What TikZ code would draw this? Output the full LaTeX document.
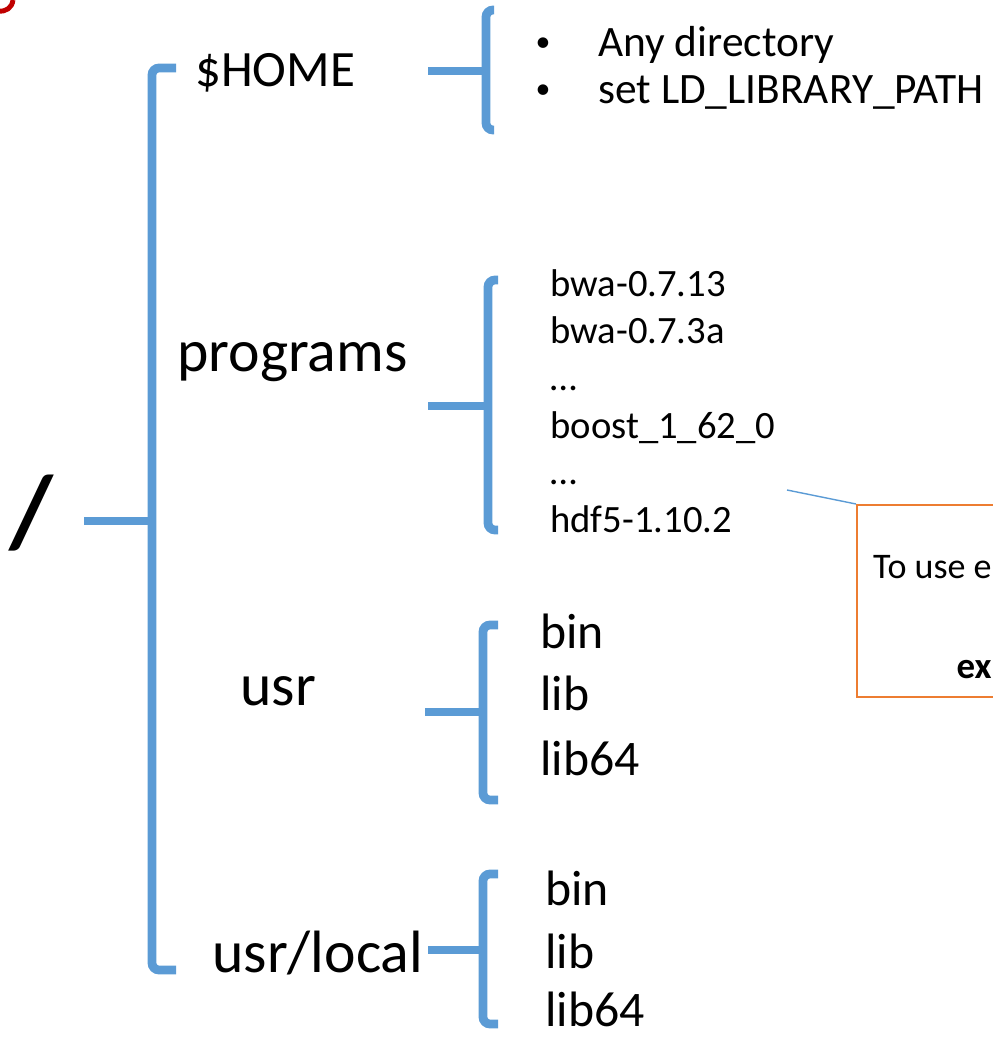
\documentclass[tikz,border=0pt]{standalone}
\usepackage{fontspec}
\setmainfont{Carlito}
\usetikzlibrary{positioning}

\definecolor{brk}{HTML}{5B9BD5}
\definecolor{callout}{HTML}{ED7D31}
\definecolor{darkred}{HTML}{C00000}

\tikzset{
  brace/.style={draw=brk, line width=5pt, rounded corners=4pt},
  stem/.style={draw=brk, line width=5pt},
  dirname/.style={anchor=base west, inner sep=0pt, font=\fontsize{34pt}{34pt}\selectfont},
  subdir/.style={anchor=base west, inner sep=0pt, font=\fontsize{28.3pt}{28.3pt}\selectfont},
  pkg/.style={anchor=base west, inner sep=0pt, font=\fontsize{22pt}{22pt}\selectfont},
  note/.style={anchor=base west, inner sep=0pt, font=\fontsize{24.7pt}{24.7pt}\selectfont},
  dot/.style={anchor=center, inner sep=0pt, font=\fontsize{17pt}{17pt}\selectfont},
}

\begin{document}
\begin{tikzpicture}[x=0.02cm, y=-0.02cm]
  \useasboundingbox (0,0) rectangle (993,1037);
  \begin{scope}
  \clip (0,0) rectangle (993,1037);

  % cut-off red letter in the corner
  \draw[darkred, line width=2.8pt] (-2,11) .. controls (6,12) and (12,8) .. (13,0);

  % root
  \node[anchor=center, inner sep=0pt, font=\fontsize{58pt}{58pt}\bfseries\selectfont] (root) at (31,513) {/};
  \coordinate (rootstem) at (84,521);
  \coordinate (rootjoin) at (152,521);
  \draw[brace] (176,68) -- (152,68) -- (152,970) -- (176,970);
  \draw[stem] (rootstem) -- (rootjoin);

  % top level directories
  \node[dirname, font=\fontsize{29pt}{29pt}\selectfont] (home) at (195,87) {\$HOME};
  \node[dirname] (programs) at (177,371) {programs};
  \node[dirname] (usr) at (240,705) {usr};
  \node[dirname] (usrlocal) at (212,972) {usr/local};

  % $HOME
  \coordinate (homestem) at (428,71);
  \coordinate (homejoin) at (486,71);
  \draw[brace] (494,10) -- (486,10) -- (486,130) -- (494,130);
  \draw[stem] (homestem) -- (homejoin);
  \node[dot] (bulleta) at (543,45) {•};
  \node[note] (anydir) at (598,57) {Any directory};
  \node[dot] (bulletb) at (543,92) {•};
  \node[note] (ldpath) at (598,104) {set LD\_LIBRARY\_PATH};

  % programs
  \coordinate (progstem) at (428,406);
  \coordinate (progjoin) at (488,406);
  \draw[brace] (498,280) -- (488,280) -- (488,530) -- (498,530);
  \draw[stem] (progstem) -- (progjoin);
  \node[pkg] (bwaa) at (550,296) {bwa-0.7.13};
  \node[pkg] (bwab) at (550,343) {bwa-0.7.3a};
  \node[pkg] (dotsa) at (550,390) {…};
  \node[pkg] (boost) at (550,438) {boost\_1\_62\_0};
  \node[pkg] (dotsb) at (550,484) {…};
  \node[pkg] (hdf) at (550,532) {hdf5-1.10.2};

  % usr
  \coordinate (usrstem) at (425,712);
  \coordinate (usrjoin) at (483,712);
  \draw[brace] (498,625) -- (483,625) -- (483,800) -- (498,800);
  \draw[stem] (usrstem) -- (usrjoin);
  \node[subdir] (usrbin) at (540,648) {bin};
  \node[subdir] (usrlib) at (540,710) {lib};
  \node[subdir] (usrlibsf) at (540,775) {lib64};

  % usr/local
  \coordinate (localstem) at (428,950);
  \coordinate (localjoin) at (483,950);
  \draw[brace] (498,874) -- (483,874) -- (483,1024) -- (498,1024);
  \draw[stem] (localstem) -- (localjoin);
  \node[subdir] (localbin) at (545,905) {bin};
  \node[subdir] (locallib) at (545,968) {lib};
  \node[subdir] (locallibsf) at (545,1026) {lib64};

  % callout
  \node[draw=callout, line width=1.2pt, anchor=north west, minimum width=300*0.02cm,
        minimum height=192*0.02cm, inner sep=0pt] (box) at (856,504) {};
  \coordinate (pointer) at (787,490);
  \draw[brk, line width=0.8pt] (pointer) -- (box.north west);
  \node[anchor=base east, inner sep=0pt, font=\fontsize{20.5pt}{20.5pt}\selectfont] (usetext) at (992,578) {To use e};
  \node[anchor=base east, inner sep=0pt, font=\fontsize{21pt}{21pt}\bfseries\selectfont] (extext) at (992,678) {ex};
  \end{scope}
\end{tikzpicture}
\end{document}
